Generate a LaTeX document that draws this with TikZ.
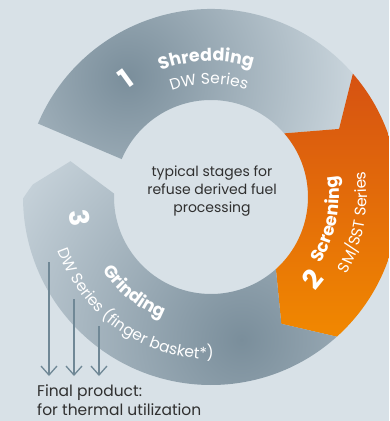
\documentclass[tikz,border=0pt]{standalone}
\usepackage{fontspec}
\setsansfont{Poppins}
\renewcommand{\familydefault}{\sfdefault}
\usetikzlibrary{arrows.meta}
\usetikzlibrary{decorations.text}
\definecolor{mbg}{RGB}{216,225,231}
\definecolor{mgrey}{RGB}{122,142,155}
\definecolor{mlight}{RGB}{206,217,224}
\definecolor{mpale}{RGB}{196,208,216}
\definecolor{mred}{RGB}{214,82,18}
\definecolor{morange}{RGB}{241,136,0}
\definecolor{marrow}{RGB}{112,136,150}
\definecolor{mtext}{RGB}{48,48,48}
\tikzset{stagenum/.style = {text = white, inner sep = 0,
                            font = \bfseries\fontsize{27}{27}\selectfont}}
\tikzset{bodytext/.style = {text = mtext, inner sep = 0,
                            font = \fontsize{14}{18}\selectfont}}
\tikzset{flow/.style = {draw = marrow, line width = 1.3pt,
                        -{Straight Barb[length = 9pt, width = 16pt]}}}
\tikzset{arcbold/.style = {decorate, decoration = {text along path, text align = center,
                           text color = white,
                           text = {|\bfseries\fontsize{17.5}{17.5}\selectfont|#1}}}}
\tikzset{arcthin/.style = {decorate, decoration = {text along path, text align = center,
                           text color = white,
                           text = {|\fontsize{15.5}{15.5}\selectfont|#1}}}}

\begin{document}
\begin{tikzpicture}[x = 1pt, y = 1pt]
  \useasboundingbox (-211, -224) rectangle (178, 197);
  \clip (-211, -224) rectangle (178, 197);
  \fill [mbg] (-211, -224) rectangle (178, 197);

  % stage 1
  \begin{scope}
    \clip (157:188) arc [start angle = 157, end angle = 41, radius = 188]
      -- (28:145) -- (41:97) arc [start angle = 41, end angle = 157, radius = 97] -- cycle;
    \shade [inner color = mgrey, outer color = mlight] (125:146) circle [radius = 240];
  \end{scope}

  % stage 2
  \shade [top color = mred, bottom color = morange]
    (41:188) arc [start angle = 41, end angle = -48, radius = 188]
    -- (-61:145) -- (-48:97) arc [start angle = -48, end angle = 41, radius = 97]
    -- (28:145) -- cycle;

  % stage 3
  \begin{scope}
    \clip (-48:188) arc [start angle = -48, end angle = -182, radius = 188]
      -- (-194.3:145) -- (-182:97) arc [start angle = -182, end angle = -48, radius = 97]
      -- (-61:145) -- cycle;
    \shade [inner color = mgrey, outer color = mpale] (-78:146) circle [radius = 260];
  \end{scope}

  \node [stagenum, rotate = 36] (one) at (125.7:146) {1};
  \node [stagenum, rotate = 51] (two) at (-39:130) {2};
  \node [stagenum, rotate = -81] (three) at (189:133) {3};

  \path [arcbold = Shredding] (142:136) arc [start angle = 142, end angle = 42, radius = 136];
  \path [arcthin = DW Series] (141:113) arc [start angle = 141, end angle = 41, radius = 113];
  \path [arcbold = Screening] (-61:128) arc [start angle = -61, end angle = 39, radius = 128];
  \path [arcthin = SM/SST Series] (-60:156) arc [start angle = -60, end angle = 40, radius = 156];
  \path [arcbold = Grinding] (181:131) arc [start angle = 181, end angle = 281, radius = 131];
  \path [arcthin = DW Series (finger basket*)] (165:162) arc [start angle = 165, end angle = 305, radius = 162];

  \node [bodytext, align = center] (stages) at (1, 6)
    {typical stages for\\refuse derived fuel\\processing};
  \node [bodytext, align = left, anchor = north west,
         font = \fontsize{15.5}{19}\selectfont] (final) at (-174, -188)
    {Final product:\\for thermal utilization};

  \coordinate (top1) at (-162, -65);
  \coordinate (top2) at (-137, -102);
  \coordinate (top3) at (-112, -129);
  \coordinate (end1) at (-162, -179);
  \coordinate (end2) at (-137, -179);
  \coordinate (end3) at (-112, -179);
  \draw [flow] (top1) -- (end1);
  \draw [flow] (top2) -- (end2);
  \draw [flow] (top3) -- (end3);
\end{tikzpicture}
\end{document}
